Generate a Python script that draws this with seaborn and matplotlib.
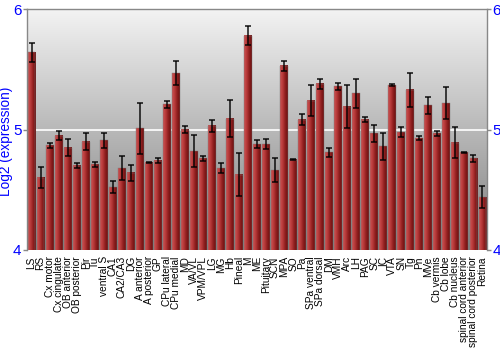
import numpy as np
import pandas as pd
import matplotlib
matplotlib.use("Agg")
import matplotlib.pyplot as plt
import seaborn as sns
from matplotlib.colors import LinearSegmentedColormap

regions = ["LS", "RS", "Cx motor", "Cx cingulate", "OB anterior", "OB posterior", "Pir", "Tu",
           "ventral S", "CA1", "CA2/CA3", "DG", "A anterior", "A posterior", "GP", "CPu lateral",
           "CPu medial", "MD", "VA/VL", "VPM/VPL", "LG", "MG", "Hb", "Pineal", "M", "ME",
           "Pituitary", "SCN", "MPA", "SO", "Pa", "SPa ventral", "SPa dorsal", "DM", "VMH", "Arc",
           "LH", "PAG", "SC", "IC", "VTA", "SN", "Tg", "Pn", "MVe", "Cb vermis", "Cb lobe",
           "Cb nucleus", "spinal cord anterior", "spinal cord posterior", "Retina"]
expression = [5.64, 4.60, 4.87, 4.95, 4.85, 4.70, 4.90, 4.71,
              4.91, 4.52, 4.68, 4.64, 5.01, 4.725, 4.74, 5.21,
              5.47, 5.00, 4.82, 4.76, 5.03, 4.68, 5.09, 4.625, 5.78, 4.88,
              4.88, 4.66, 5.53, 4.75, 5.08, 5.24, 5.38, 4.81, 5.36, 5.19,
              5.30, 5.08, 4.97, 4.86, 5.37, 4.98, 5.33, 4.93, 5.20, 4.97, 5.22,
              4.89, 4.81, 4.76, 4.44]
error = [0.08, 0.085, 0.02, 0.04, 0.07, 0.02, 0.07, 0.02,
         0.06, 0.05, 0.10, 0.067, 0.21, 0.005, 0.02, 0.03,
         0.10, 0.025, 0.135, 0.02, 0.05, 0.04, 0.155, 0.18, 0.078, 0.03,
         0.04, 0.10, 0.04, 0.005, 0.045, 0.13, 0.04, 0.04, 0.03, 0.18,
         0.12, 0.02, 0.07, 0.11, 0.005, 0.04, 0.14, 0.02, 0.07, 0.02, 0.13,
         0.13, 0.005, 0.03, 0.09]

df = pd.DataFrame({"region": regions, "expression": expression, "error": error})

sns.set_style("white")
plt.rcParams["font.family"] = ["Liberation Sans", "DejaVu Sans"]

fig = plt.figure(figsize=(5, 3.5), dpi=100)
ax = fig.add_axes([0.054, 0.286, 0.92, 0.688])

sns.barplot(data=df, x="region", y="expression", ax=ax, width=0.88,
            color="#a52a2a", errorbar=None, zorder=2)
ymin, ymax = 4, 6
ax.set_ylim(ymin, ymax)
ax.set_xlim(-0.5, len(regions) - 0.5)

# background vertical gradient
bg = LinearSegmentedColormap.from_list("bg", ["#7e7e7e", "#f3f3f3"])
grad = np.linspace(0, 1, 256).reshape(-1, 1)
ax.imshow(grad, extent=[0, 1, 0, 1], transform=ax.transAxes, origin="lower",
          cmap=bg, aspect="auto", zorder=0)
ax.axhline(5, color="white", lw=1.2, zorder=1)

# bar horizontal gradient
barcmap = LinearSegmentedColormap.from_list("bar", ["#cc5454", "#b83a3a", "#8e1e1e", "#6a1010"])
hgrad = np.linspace(0, 1, 64).reshape(1, -1)
for p in ax.patches:
    x0 = p.get_x()
    w, top = p.get_width(), p.get_y() + p.get_height()
    ax.imshow(hgrad, extent=[x0, x0 + w, ymin, top], cmap=barcmap,
              aspect="auto", zorder=2.5)
    p.set_facecolor("none")
    p.set_edgecolor("#7a7a7a")
    p.set_linewidth(0.3)
    p.set_zorder(2.6)

ax.errorbar(np.arange(len(regions)), df["expression"], yerr=df["error"], fmt="none",
            ecolor="black", elinewidth=1.2, capsize=2.5, capthick=1.2, alpha=0.85, zorder=4)

ax.set_xlim(-0.5, len(regions) - 0.5)
ax.set_ylim(ymin, ymax)
ax.set_yticks([4, 5, 6])
ax.tick_params(axis="y", colors="#888888", labelcolor="blue", labelsize=11,
               left=True, right=True, labelleft=True, labelright=True, length=3, width=1, pad=1)
ax.tick_params(axis="x", labelsize=7.3, rotation=90, bottom=False, pad=1)
for lbl in ax.get_xticklabels():
    lbl.set_color("black")
ax.set_xlabel("")
ax.set_ylabel("Log2 (expression)", color="blue", fontsize=9.8)
ax.yaxis.set_label_coords(-0.031, 0.45)

for s in ["top", "left", "right"]:
    ax.spines[s].set_color("#888888")
    ax.spines[s].set_linewidth(1)
ax.spines["bottom"].set_visible(False)

fig.savefig("out.png", dpi=100)
